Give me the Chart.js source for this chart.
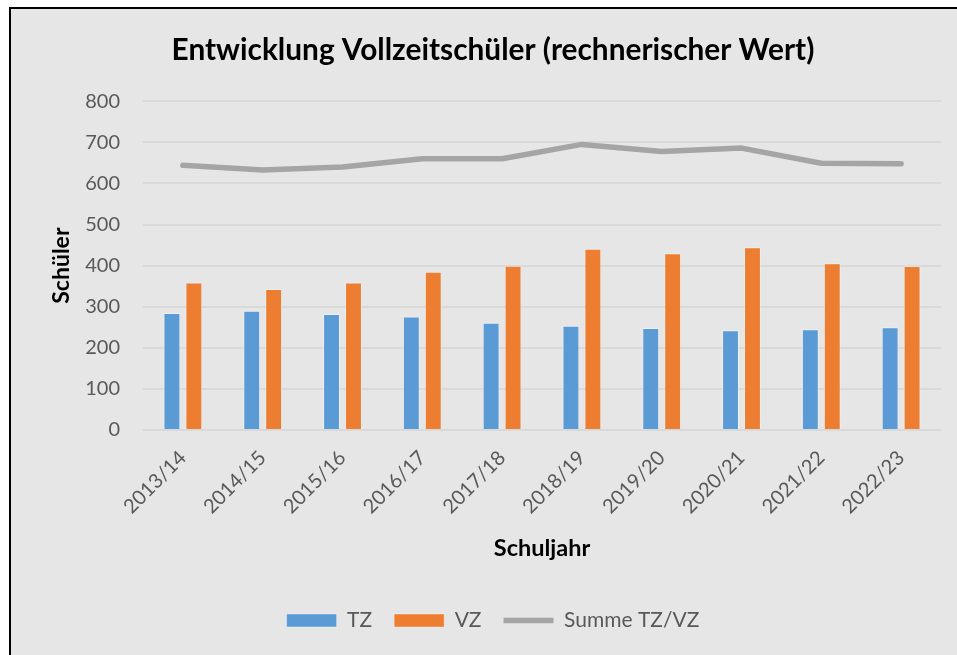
<!DOCTYPE html>
<html>
<head>
<meta charset="utf-8">
<script src="https://cdn.jsdelivr.net/npm/chart.js@4/dist/chart.umd.min.js"></script>
<style>
    body { margin: 0; background: #ffffff; overflow: hidden; }
    #frame {
        position: absolute; left: 9px; top: 7px; width: 960px; height: 660px;
        border-left: 2px solid #000; border-top: 2px solid #000;
        background: #e6e6e6;
    }
    #wrap { position: absolute; left: 0; top: 0; width: 957px; height: 655px; }
</style>
</head>
<body>
<div id="frame"></div>
<div id="wrap"><canvas id="chart"></canvas></div>
<script>
const schuljahre = ['2013/14', '2014/15', '2015/16', '2016/17', '2017/18', '2018/19', '2019/20', '2020/21', '2021/22', '2022/23'];
const tzWerte = [285, 290, 282, 276, 261, 254, 248, 243, 245, 250];
const vzWerte = [359, 343, 359, 385, 400, 441, 430, 445, 406, 399];
const summeWerte = [644, 633, 640, 660, 660, 695, 678, 686, 649, 648];
const yTicks = [0, 100, 200, 300, 400, 500, 600, 700, 800];

Chart.defaults.font.family = 'Lato';
Chart.defaults.color = '#595959';

const ctx = document.getElementById('chart').getContext('2d');
new Chart(ctx, {
    type: 'bar',
    data: {
        labels: schuljahre,
        datasets: [
            {
                label: 'TZ',
                data: tzWerte,
                backgroundColor: '#5b9bd5',
                borderColor: 'rgba(255,255,255,0.35)',
                borderWidth: 1,
                pointStyle: 'rect',
                categoryPercentage: 0.55,
                barPercentage: 0.77
            },
            {
                label: 'VZ',
                data: vzWerte,
                backgroundColor: '#ed7d31',
                borderColor: 'rgba(255,255,255,0.35)',
                borderWidth: 1,
                pointStyle: 'rect',
                categoryPercentage: 0.55,
                barPercentage: 0.77
            },
            {
                type: 'line',
                label: 'Summe TZ/VZ',
                data: summeWerte,
                borderColor: '#a5a5a5',
                backgroundColor: '#a5a5a5',
                borderWidth: 5.5,
                borderCapStyle: 'round',
                borderJoinStyle: 'round',
                pointRadius: 0,
                pointStyle: 'line',
                tension: 0
            }
        ]
    },
    options: {
        responsive: true,
        maintainAspectRatio: false,
        animation: false,
        layout: { padding: { left: 45, right: 16, top: 10, bottom: 14 } },
        plugins: {
            tooltip: { enabled: false },
            title: {
                display: true,
                text: 'Entwicklung Vollzeitschüler (rechnerischer Wert)',
                color: '#000000',
                font: { size: 29.8, weight: 'bold' },
                padding: { top: 23, bottom: 32.5 }
            },
            legend: {
                position: 'bottom',
                labels: {
                    usePointStyle: true,
                    pointStyleWidth: 50,
                    boxHeight: 13,
                    padding: 22,
                    color: '#595959',
                    font: { size: 21 }
                }
            }
        },
        scales: {
            x: {
                grid: { display: false, drawTicks: false },
                border: { display: false },
                ticks: {
                    minRotation: 45, maxRotation: 45,
                    padding: 16,
                    color: '#595959',
                    font: { size: 20 }
                },
                title: {
                    display: true,
                    text: 'Schuljahr',
                    color: '#000000',
                    font: { size: 23.5, weight: 'bold' },
                    padding: { top: 0, bottom: 25 }
                },
                afterFit(scale) { scale.height = 158; }
            },
            y: {
                min: 0,
                max: 800,
                afterBuildTicks(scale) { scale.ticks = yTicks.map(v => ({ value: v })); },
                grid: { color: '#d9d9d9', lineWidth: 2, drawTicks: false },
                border: { display: false },
                ticks: {
                    padding: 23,
                    color: '#595959',
                    font: { size: 20 }
                },
                title: {
                    display: true,
                    text: 'Schüler',
                    color: '#000000',
                    font: { size: 23, weight: 'bold' },
                    padding: { top: 3, bottom: 0 }
                },
                afterFit(scale) { scale.width = 98; }
            }
        }
    }
});
</script>
</body>
</html>
